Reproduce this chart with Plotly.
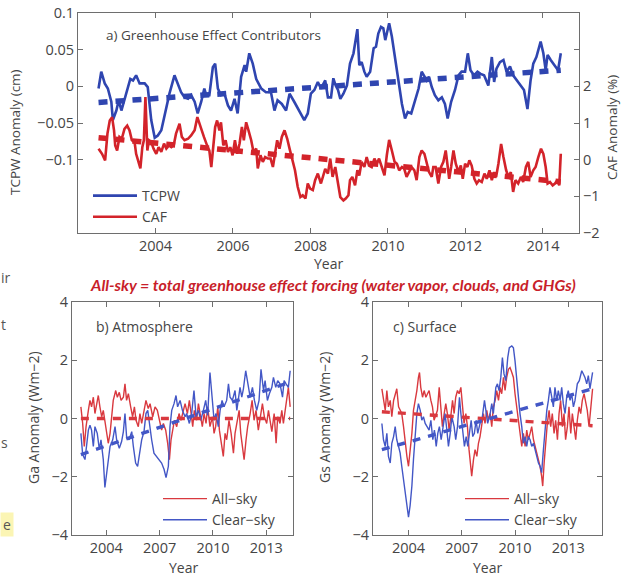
import plotly.graph_objects as go

# ---------------- data: panel a ----------------
tcpw_year = [2002.53, 2002.60, 2002.69, 2002.77, 2002.86, 2002.90, 2002.99, 2003.05, 2003.12, 2003.20,
             2003.29, 2003.35, 2003.42, 2003.50, 2003.59, 2003.72, 2003.80, 2003.89, 2003.98, 2004.06,
             2004.15, 2004.25, 2004.36, 2004.49, 2004.58, 2004.66, 2004.75, 2004.84, 2004.92, 2005.01,
             2005.09, 2005.18, 2005.26, 2005.31, 2005.39, 2005.48, 2005.54, 2005.61, 2005.69, 2005.78,
             2005.87, 2005.95, 2006.04, 2006.12, 2006.21, 2006.30, 2006.34, 2006.42, 2006.51, 2006.60,
             2006.73, 2006.85, 2006.98, 2007.07, 2007.15, 2007.26, 2007.37, 2007.46, 2007.58, 2007.71,
             2007.84, 2007.93, 2008.01, 2008.10, 2008.19, 2008.27,
             2008.38, 2008.45, 2008.53, 2008.59, 2008.65, 2008.71, 2008.77, 2008.85, 2008.94, 2009.02,
             2009.11, 2009.21, 2009.26, 2009.32, 2009.39, 2009.45, 2009.54, 2009.63, 2009.69, 2009.75,
             2009.82, 2009.88, 2009.93, 2009.97, 2010.03, 2010.10, 2010.18, 2010.27, 2010.36, 2010.44,
             2010.51, 2010.60, 2010.68, 2010.79, 2010.87, 2010.94, 2011.00, 2011.06, 2011.13, 2011.21,
             2011.30, 2011.39, 2011.47, 2011.54, 2011.63, 2011.73, 2011.82, 2011.90, 2011.99, 2012.06,
             2012.13, 2012.22, 2012.31, 2012.39, 2012.48, 2012.59, 2012.68, 2012.74, 2012.80, 2012.89,
             2012.98, 2013.06, 2013.15, 2013.23, 2013.32, 2013.42, 2013.51, 2013.60, 2013.68, 2013.75,
             2013.83, 2013.94, 2014.01, 2014.07, 2014.12, 2014.20, 2014.31, 2014.39, 2014.46]
tcpw_val = [-0.003, 0.020, 0.004, -0.003, -0.021, -0.046, -0.033, -0.019, -0.033, -0.019,
            -0.003, 0.010, 0.008, 0.015, 0.004, 0.004, -0.001, -0.046, -0.070, -0.067,
            -0.060, -0.037, -0.010, 0.015, 0.004, -0.008, -0.015, -0.017, -0.012, -0.021,
            -0.037, -0.021, -0.003, -0.012, -0.012, 0.026, 0.031, -0.003, -0.012, -0.010,
            -0.026, -0.033, -0.017, -0.037, 0.013, 0.029, 0.020, 0.045, 0.031, 0.010,
            -0.003, -0.008, -0.008, -0.033, -0.019, -0.024, -0.033, -0.010, -0.021, -0.033,
            -0.046, -0.037, -0.010, -0.005, 0.006, -0.003,
            0.008, -0.015, -0.015, 0.011, 0.001, -0.005, -0.017, -0.010, 0.001, 0.031,
            0.045, 0.078, 0.029, 0.033, 0.020, 0.013, 0.020, 0.052, 0.054, 0.072,
            0.081, 0.079, 0.063, 0.072, 0.086, 0.068, 0.040, 0.008, -0.024, -0.044,
            -0.035, -0.037, -0.024, -0.003, 0.020, 0.013, 0.008, 0.013, -0.001, -0.012,
            -0.019, -0.015, -0.024, -0.044, -0.021, -0.005, 0.015, 0.020, 0.020, 0.045,
            0.022, 0.015, 0.020, 0.017, 0.015, 0.001, 0.040, 0.006, 0.024, 0.033,
            0.036, 0.020, 0.027, 0.015, 0.008, 0.001, -0.005, -0.031, 0.008, 0.031,
            0.040, 0.061, 0.045, 0.022, 0.043, 0.036, 0.027, 0.022, 0.045]

caf_year = [2002.53, 2002.62, 2002.70, 2002.76, 2002.82, 2002.88, 2002.93, 2002.96, 2003.01, 2003.07,
            2003.13, 2003.20, 2003.27, 2003.33, 2003.39, 2003.46, 2003.50, 2003.55, 2003.61, 2003.66,
            2003.70, 2003.74, 2003.79, 2003.83, 2003.89, 2003.95, 2004.02, 2004.08, 2004.15, 2004.22,
            2004.28, 2004.35, 2004.41, 2004.47, 2004.53, 2004.62, 2004.68, 2004.75, 2004.84, 2004.92,
            2005.01, 2005.08, 2005.16, 2005.25, 2005.33, 2005.39, 2005.44, 2005.48, 2005.54, 2005.59,
            2005.65, 2005.69, 2005.75, 2005.81, 2005.87, 2005.93, 2005.99, 2006.05, 2006.11, 2006.17,
            2006.23, 2006.28, 2006.34, 2006.40, 2006.47, 2006.53, 2006.60, 2006.64, 2006.71, 2006.77,
            2006.83, 2006.90, 2006.97, 2007.03, 2007.09, 2007.14, 2007.20, 2007.26, 2007.33, 2007.40,
            2007.46, 2007.52, 2007.60, 2007.67, 2007.74, 2007.80, 2007.87, 2007.93, 2007.99, 2008.06,
            2008.12, 2008.19, 2008.27,
            2008.38, 2008.45, 2008.51, 2008.57, 2008.64, 2008.71, 2008.77, 2008.85, 2008.91, 2008.98,
            2009.02, 2009.08, 2009.15, 2009.21, 2009.26, 2009.32, 2009.39, 2009.45, 2009.51, 2009.58,
            2009.65, 2009.71, 2009.77, 2009.84, 2009.91, 2009.97, 2010.03, 2010.10, 2010.17, 2010.23,
            2010.29, 2010.36, 2010.42, 2010.48, 2010.54, 2010.61, 2010.68, 2010.74, 2010.81, 2010.87,
            2010.94, 2011.00, 2011.06, 2011.13, 2011.17, 2011.23, 2011.30, 2011.37, 2011.43, 2011.49,
            2011.54, 2011.58, 2011.63, 2011.69, 2011.75, 2011.82, 2011.88, 2011.93, 2011.99, 2012.05,
            2012.10, 2012.16, 2012.23, 2012.29, 2012.35, 2012.42, 2012.49, 2012.55, 2012.62, 2012.68,
            2012.74, 2012.79, 2012.85, 2012.92, 2012.98, 2013.05, 2013.11, 2013.17, 2013.23, 2013.29,
            2013.36, 2013.43, 2013.49, 2013.56, 2013.62, 2013.68, 2013.75, 2013.81, 2013.88, 2013.95,
            2014.01, 2014.07, 2014.12, 2014.18, 2014.25, 2014.31, 2014.37, 2014.42, 2014.46]
caf_val = [0.30, 0.16, -0.02, 0.71, 1.07, 1.16, 0.80, 0.39, 0.25, 0.62,
           0.57, 0.84, 0.93, 0.80, 0.53, 0.48, 0.16, -0.02, -0.24, 0.34,
           0.53, 1.71, 0.25, 0.53, 0.48, 0.30, 0.16, 0.34, 0.21, 0.44,
           0.30, 0.39, 0.34, 0.39, 0.71, 0.98, 0.62, 0.53, 0.57, 0.66,
           0.80, 1.16, 0.89, 0.62, 0.39, 0.25, -0.20, 0.30, 0.89, 1.07,
           0.80, 1.02, 0.39, 0.53, 0.21, 0.34, 0.12, 0.53, 0.16, 0.44,
           0.89, 0.53, 1.02, 0.80, 0.53, 0.21, 0.30, -0.24, 0.12, -0.06,
           0.07, 0.03, 0.03, -0.20, 0.25, 0.53, 0.30, 0.62, 0.80, 0.57,
           0.30, 0.07, -0.29, -0.74, -1.02, -0.97, -1.06, -0.65, -0.79, -0.83,
           -0.56, -0.38, -0.65,
           -0.25, -0.38, 0.03, -0.47, -0.20, -0.65, -1.02, -1.11, -1.06, -0.97,
           -0.56, -0.47, -0.70, -0.29, -0.43, -0.06, -0.20, 0.07, -0.16, -0.20,
           0.03, -0.11, 0.03, -0.20, -0.43, 0.12, 0.54, 0.25, -0.06, -0.11,
           -0.29, -0.20, -0.25, -0.47, -0.34, -0.20, -0.29, -0.56, 0.07, 0.25,
           0.16, -0.11, -0.34, -0.47, -0.20, -0.20, -0.65, -0.20, -0.06, 0.25,
           -0.11, -0.52, -0.20, 0.25, -0.11, -0.34, -0.16, -0.52, -0.11, -0.20,
           -0.02, -0.16, -0.52, -0.65, -0.56, -0.61, -0.38, -0.52, -0.29, -0.56,
           -0.34, -0.47, -0.11, 0.43, 0.07, -0.29, -0.47, -0.34, -0.88, -0.56,
           -0.65, -0.47, -0.61, -0.20, -0.06, -0.47, -0.29, -0.20, 0.07, 0.30,
           0.16, -0.20, -0.65, -0.61, -0.70, -0.65, -0.56, -0.70, 0.16]

trend_a_year = [2002.53, 2014.46]
tcpw_trend = [-0.022, 0.022]
caf_trend = [0.60, -0.60]

# ---------------- data: panel b (Atmosphere) ----------------
b_all_year = [2002.57, 2002.67, 2002.76, 2002.86, 2002.99, 2003.08, 2003.17, 2003.27, 2003.36, 2003.46,
              2003.55, 2003.64, 2003.74, 2003.83, 2003.92, 2004.02, 2004.11, 2004.21, 2004.30, 2004.39,
              2004.53, 2004.62, 2004.73, 2004.83, 2004.96, 2005.05, 2005.14, 2005.24, 2005.37, 2005.48,
              2005.58, 2005.67, 2005.80, 2005.89, 2005.99, 2006.12, 2006.23, 2006.36, 2006.46, 2006.61,
              2006.74, 2006.87, 2006.98, 2007.11, 2007.21, 2007.34, 2007.45, 2007.55, 2007.64, 2007.73,
              2007.83, 2007.96, 2008.09, 2008.20, 2008.33, 2008.43, 2008.56, 2008.67, 2008.77, 2008.86,
              2008.95, 2009.08, 2009.18, 2009.27, 2009.40, 2009.50, 2009.61, 2009.70, 2009.83, 2009.97,
              2010.06, 2010.15, 2010.27, 2010.36, 2010.49, 2010.58, 2010.68, 2010.77, 2010.90, 2011.02,
              2011.15, 2011.24, 2011.34, 2011.47, 2011.56, 2011.65, 2011.75, 2011.86, 2011.95, 2012.09,
              2012.20, 2012.31, 2012.42, 2012.55, 2012.65, 2012.78, 2012.89, 2013.02, 2013.12, 2013.21,
              2013.31, 2013.44, 2013.55, 2013.64, 2013.77, 2013.87, 2013.96, 2014.06, 2014.15, 2014.24,
              2014.34]
b_all_val = [0.40, -0.17, -0.96, -0.28, 0.28, 0.62, 0.40, 0.73, 0.17, 0.51,
             0.79, 0.40, 0.06, 0.28, -0.06, -0.51, -0.85, -0.51, 0.17, 0.62,
             0.96, 0.73, 0.90, 0.62, 0.73, 1.19, 0.62, 0.85, 0.40, 0.06,
             0.40, -0.06, -0.28, 0.17, -0.17, 0.28, 0.62, 0.34, 0.51, 0.06,
             0.40, 0.28, -0.06, -0.40, -0.17, -0.40, -0.85, -1.41, -0.73, -0.40,
             -0.06, -0.28, 0.17, -0.06, 0.28, 0.51, 0.17, 0.62, 0.17, -0.28,
             0.28, -0.06, 0.51, 0.17, -0.28, 0.17, -0.17, 0.40, -0.28, 0.06,
             -0.51, -0.28, 0.40, -0.40, -0.96, -1.30, -0.51, -0.73, -0.06, -0.51,
             -1.19, -0.51, -0.17, 0.28, -0.51, -0.96, -1.41, -0.73, -0.28, 0.17,
             0.62, -0.06, 0.28, -0.40, 0.06, 0.51, 0.06, -0.17, 0.28, -0.06,
             -0.45, 0.17, -0.85, 0.06, -0.17, 0.28, -0.17, 0.28, 0.73, 1.07,
             0.40]
b_clear_year = [2002.57, 2002.67, 2002.80, 2002.89, 2002.99, 2003.08, 2003.17, 2003.27, 2003.36, 2003.49,
                2003.61, 2003.70, 2003.83, 2003.92, 2004.02, 2004.11, 2004.21, 2004.36, 2004.49, 2004.58,
                2004.73, 2004.86, 2004.96, 2005.05, 2005.14, 2005.28, 2005.43, 2005.52, 2005.65, 2005.76,
                2005.89, 2005.99, 2006.12, 2006.23, 2006.33, 2006.46, 2006.55, 2006.68, 2006.83, 2006.98,
                2007.11, 2007.25, 2007.36, 2007.49, 2007.58, 2007.68, 2007.81, 2007.92, 2008.01, 2008.15,
                2008.28, 2008.43, 2008.52, 2008.67, 2008.80, 2008.93, 2009.05, 2009.18, 2009.31, 2009.46,
                2009.59, 2009.70, 2009.83, 2009.95, 2010.06, 2010.17, 2010.30, 2010.40, 2010.51, 2010.62,
                2010.77, 2010.87, 2010.96, 2011.09, 2011.24, 2011.34, 2011.43, 2011.52, 2011.62, 2011.71,
                2011.84, 2011.95, 2012.09, 2012.22, 2012.33, 2012.46, 2012.59, 2012.70, 2012.84, 2012.93,
                2013.06, 2013.17, 2013.31, 2013.40, 2013.53, 2013.64, 2013.77, 2013.91, 2014.00, 2014.11,
                2014.24, 2014.34]
b_clear_val = [-0.51, -1.24, -1.41, -0.85, -0.40, -0.23, -0.40, -0.96, -0.28, -0.51,
               -1.07, -0.73, -1.41, -2.37, -1.86, -1.30, -0.96, -0.73, -0.28, -0.73,
               -1.02, -0.79, -0.45, 0.17, -0.62, -0.73, -0.45, -0.96, -1.53, -1.64,
               -1.19, -0.73, -0.45, 0.17, 0.28, -0.40, -0.73, -1.19, -1.30, -1.41,
               -1.53, -1.75, -2.03, -1.64, -0.28, 0.28, 0.51, 0.79, 0.40, 0.62,
               0.28, 0.06, 0.17, -0.17, 0.17, 0.96, 0.06, 0.28, -0.06, 0.28,
               0.62, 0.11, 1.58, 0.73, -0.06, 0.17, -0.28, 0.28, 0.62, 0.40,
               0.62, 1.19, 0.73, 0.62, 0.96, 0.28, 0.62, 1.07, 0.73, 1.02,
               1.64, 1.19, 0.73, 1.07, 0.62, 0.28, 0.62, 1.69, 0.96, 1.30,
               0.62, 0.85, 1.07, 1.41, 1.07, 1.30, 1.19, 0.73, 1.30, 1.19,
               1.07, 1.64]
trend_b_year = [2002.57, 2014.34]
b_all_trend = [0.0, 0.0]
b_clear_trend = [-1.24, 1.25]

# ---------------- data: panel c (Surface) ----------------
c_all_year = [2002.50, 2002.59, 2002.69, 2002.78, 2002.87, 2002.97, 2003.06, 2003.16, 2003.25, 2003.34,
              2003.44, 2003.53, 2003.62, 2003.72, 2003.81, 2003.91, 2004.00, 2004.09, 2004.19, 2004.28,
              2004.38, 2004.47, 2004.56, 2004.62, 2004.69, 2004.79, 2004.88, 2004.98, 2005.07, 2005.16,
              2005.26, 2005.35, 2005.44, 2005.54, 2005.63, 2005.73, 2005.82, 2005.91, 2006.01, 2006.10,
              2006.19, 2006.29, 2006.38, 2006.48, 2006.57, 2006.66, 2006.76, 2006.85, 2006.95, 2007.04,
              2007.13, 2007.23, 2007.32, 2007.41, 2007.51, 2007.56, 2007.66, 2007.75, 2007.85, 2007.94,
              2008.03, 2008.13, 2008.22, 2008.31, 2008.41, 2008.50, 2008.60, 2008.69, 2008.78, 2008.88,
              2008.97, 2009.07, 2009.16, 2009.25, 2009.35, 2009.44, 2009.53, 2009.63, 2009.72, 2009.82,
              2009.91, 2010.00, 2010.10, 2010.19, 2010.28, 2010.38, 2010.47, 2010.57, 2010.66, 2010.75,
              2010.85, 2010.94, 2011.04, 2011.13, 2011.22, 2011.32, 2011.41, 2011.50, 2011.56, 2011.64,
              2011.73, 2011.82, 2011.92, 2012.01, 2012.10, 2012.20, 2012.29, 2012.39, 2012.48, 2012.57,
              2012.67, 2012.76, 2012.85, 2012.95, 2013.04, 2013.14, 2013.23, 2013.32, 2013.42, 2013.51,
              2013.61, 2013.70, 2013.79, 2013.89, 2013.98, 2014.07, 2014.17, 2014.26, 2014.37]
c_all_val = [1.02, 0.73, 0.28, 0.96, 0.40, 0.62, 0.06, 0.62, 0.85, 1.02,
             0.40, 0.28, 0.17, -0.28, -0.85, -1.30, -1.64, -1.19, -0.51, 0.28,
             0.62, 0.96, 1.41, 1.58, 1.07, 0.73, 0.96, 0.73, 0.85, 0.96,
             0.62, 0.40, -0.06, 0.17, 0.28, 1.07, 0.40, -0.28, 0.17, 0.51,
             0.17, -0.40, 0.06, 0.62, 0.17, 0.73, 0.96, 0.85, 1.07, 0.40,
             -0.17, 0.17, -0.28, -1.07, -1.64, -1.98, -1.41, -1.07, -1.30, -0.85,
             -0.62, -0.28, 0.17, -0.17, 0.28, -0.06, 0.17, -0.28, 0.40, 0.62,
             0.96, 0.62, 1.07, 0.85, 1.41, 0.96, 1.41, 1.69, 1.75, 1.58,
             1.41, 0.85, 0.40, -0.06, -0.51, -0.96, -0.51, -0.96, -0.40, -0.73,
             -0.51, -0.28, -0.73, -0.96, -1.19, -1.41, -1.64, -1.98, -2.32, -1.53,
             -0.73, -0.17, 0.28, -0.28, 0.17, -0.51, -0.06, -0.73, 0.17, 0.62,
             -0.28, 0.17, -0.73, -0.28, 0.40, -0.51, 0.17, -0.28, -0.73, -0.06,
             0.40, 0.17, 0.62, 0.85, 0.62, 0.28, -0.28, 0.40, 1.02]
c_clear_year = [2002.50, 2002.59, 2002.69, 2002.78, 2002.87, 2002.97, 2003.06, 2003.16, 2003.25, 2003.34,
                2003.44, 2003.53, 2003.62, 2003.72, 2003.81, 2003.91, 2004.00, 2004.09, 2004.19, 2004.28,
                2004.38, 2004.47, 2004.56, 2004.66, 2004.75, 2004.84, 2004.94, 2005.03, 2005.16, 2005.26,
                2005.37, 2005.46, 2005.56, 2005.65, 2005.74, 2005.84, 2005.93, 2006.06, 2006.16, 2006.25,
                2006.35, 2006.44, 2006.57, 2006.66, 2006.76, 2006.87, 2006.95, 2007.04, 2007.15, 2007.25,
                2007.34, 2007.43, 2007.53, 2007.62, 2007.71, 2007.81, 2007.90, 2008.03, 2008.16, 2008.28,
                2008.37, 2008.46, 2008.60, 2008.69, 2008.78, 2008.92, 2009.01, 2009.10, 2009.20, 2009.29,
                2009.38, 2009.48, 2009.59, 2009.68, 2009.82, 2009.91, 2010.00, 2010.10, 2010.19, 2010.28,
                2010.38, 2010.47, 2010.57, 2010.66, 2010.75, 2010.85, 2010.94, 2011.04, 2011.13, 2011.22,
                2011.32, 2011.41, 2011.50, 2011.60, 2011.69, 2011.79, 2011.88, 2011.97, 2012.07, 2012.16,
                2012.25, 2012.35, 2012.44, 2012.54, 2012.63, 2012.72, 2012.82, 2012.91, 2013.00, 2013.10,
                2013.19, 2013.29, 2013.38, 2013.51, 2013.62, 2013.76, 2013.85, 2013.94, 2014.04, 2014.13,
                2014.22, 2014.32, 2014.37]
c_clear_val = [-0.17, -0.73, -0.96, -0.51, -1.30, -1.53, -0.85, -0.62, -0.28, -0.73,
               -0.96, -1.19, -1.64, -2.09, -2.66, -3.11, -3.39, -2.99, -2.32, -1.41,
               -0.40, 0.17, 0.51, 0.28, -0.06, 0.06, -0.17, -0.28, -0.40, -0.06,
               -0.73, -0.40, -0.96, -0.51, -0.28, -0.73, -0.28, 0.17, -0.40, -0.96,
               -0.51, 0.06, -0.28, -0.73, -0.28, 0.73, 0.17, -0.40, -0.96, -0.62,
               -0.96, -0.51, -0.06, -0.62, -0.51, -0.06, -0.51, -0.17, 0.06, 0.62,
               0.28, -0.17, 0.17, 0.51, 0.17, 1.07, 1.19, 0.96, 1.41, 2.09,
               1.53, 1.30, 2.09, 2.43, 2.49, 2.43, 1.98, 1.30, 0.73, 0.17,
               -0.28, -0.85, -0.62, -0.96, -0.62, -0.73, -0.96, -0.85, -1.07, -1.30,
               -1.53, -1.64, -1.86, -1.07, -0.28, 0.28, 0.62, 1.07, 0.73, 0.40,
               1.07, 0.62, 0.96, 0.62, 1.07, 0.51, 0.17, 0.73, 0.96, 0.62,
               0.85, 0.40, 0.62, 1.19, 1.30, 1.64, 1.53, 1.41, 1.19, 1.47,
               1.02, 1.41, 1.58]
trend_c_year = [2002.50, 2014.37]
c_all_trend = [0.23, -0.25]
c_clear_trend = [-1.07, 1.02]

# ---------------- styling ----------------
W, H = 627, 576
BLUE_A, RED_A = "#2f45b0", "#d3232a"
BLUE_B, RED_B = "#4357c6", "#d9393f"
AXC = "#6e6e6e"
TXT = "#454545"
FONT = "Open Sans"


def px_x(p):
    return p / W


def px_y(p):
    return 1 - p / H


fig = go.Figure()

# panel a
fig.add_trace(go.Scatter(x=tcpw_year, y=tcpw_val, mode="lines", name="TCPW",
                         line=dict(color=BLUE_A, width=2.6), xaxis="x", yaxis="y", legend="legend"))
fig.add_trace(go.Scatter(x=caf_year, y=caf_val, mode="lines", name="CAF",
                         line=dict(color=RED_A, width=2.6), xaxis="x", yaxis="y2", legend="legend"))
fig.add_trace(go.Scatter(x=trend_a_year, y=tcpw_trend, mode="lines", showlegend=False,
                         line=dict(color=BLUE_A, width=5.5, dash="9px,8px"), xaxis="x", yaxis="y"))
fig.add_trace(go.Scatter(x=trend_a_year, y=caf_trend, mode="lines", showlegend=False,
                         line=dict(color=RED_A, width=5.5, dash="9px,8px"), xaxis="x", yaxis="y2"))

# panel b
fig.add_trace(go.Scatter(x=b_all_year, y=b_all_val, mode="lines", name="All\u2212sky",
                         line=dict(color=RED_B, width=1.4), xaxis="x2", yaxis="y3", legend="legend2"))
fig.add_trace(go.Scatter(x=b_clear_year, y=b_clear_val, mode="lines", name="Clear\u2212sky",
                         line=dict(color=BLUE_B, width=1.4), xaxis="x2", yaxis="y3", legend="legend2"))
fig.add_trace(go.Scatter(x=trend_b_year, y=b_all_trend, mode="lines", showlegend=False,
                         line=dict(color=RED_B, width=3.4, dash="8px,8px"), xaxis="x2", yaxis="y3"))
fig.add_trace(go.Scatter(x=trend_b_year, y=b_clear_trend, mode="lines", showlegend=False,
                         line=dict(color=BLUE_B, width=3.4, dash="8px,8px"), xaxis="x2", yaxis="y3"))

# panel c
fig.add_trace(go.Scatter(x=c_all_year, y=c_all_val, mode="lines", name="All\u2212sky",
                         line=dict(color=RED_B, width=1.4), xaxis="x3", yaxis="y4", legend="legend3"))
fig.add_trace(go.Scatter(x=c_clear_year, y=c_clear_val, mode="lines", name="Clear\u2212sky",
                         line=dict(color=BLUE_B, width=1.4), xaxis="x3", yaxis="y4", legend="legend3"))
fig.add_trace(go.Scatter(x=trend_c_year, y=c_all_trend, mode="lines", showlegend=False,
                         line=dict(color=RED_B, width=3.4, dash="8px,8px"), xaxis="x3", yaxis="y4"))
fig.add_trace(go.Scatter(x=trend_c_year, y=c_clear_trend, mode="lines", showlegend=False,
                         line=dict(color=BLUE_B, width=3.4, dash="8px,8px"), xaxis="x3", yaxis="y4"))

axis_common = dict(showline=True, linecolor=AXC, linewidth=1, ticks="inside", ticklen=5,
                   tickcolor=AXC, tickwidth=1, showgrid=False, zeroline=False,
                   tickfont=dict(family=FONT, size=14.5, color=TXT), fixedrange=True)

legend_common = dict(xanchor="left", yanchor="top", bgcolor="rgba(0,0,0,0)",
                     font=dict(family=FONT, size=14, color=TXT), tracegroupgap=0, itemwidth=44)

fig.update_layout(
    width=W, height=H, autosize=False,
    margin=dict(l=0, r=0, t=0, b=0, autoexpand=False),
    paper_bgcolor="white", plot_bgcolor="white",
    font=dict(family=FONT, color=TXT),
    xaxis=dict(domain=[px_x(78), px_x(579)], anchor="y", range=[2002.0, 2014.93],
               tickvals=[2004, 2006, 2008, 2010, 2012, 2014], mirror="ticks", **axis_common),
    yaxis=dict(domain=[px_y(233), px_y(13)], anchor="x", range=[-0.2, 0.1],
               tickvals=[-0.1, -0.05, 0, 0.05, 0.1],
               ticktext=["\u22120.1", "\u22120.05", "0", "0.05", "0.1"], mirror=False, **axis_common),
    yaxis2=dict(overlaying="y", side="right", anchor="x", range=[-2, 4],
                tickvals=[-2, -1, 0, 1, 2, 3],
                ticktext=["\u22122", "\u22121", "0", "1", "2", ""], **axis_common),
    xaxis2=dict(domain=[px_x(72), px_x(293)], anchor="y3", range=[2002.07, 2014.5],
                tickvals=[2004, 2007, 2010, 2013], mirror="ticks", **axis_common),
    yaxis3=dict(domain=[px_y(535), px_y(302)], anchor="x2", range=[-4, 4],
                tickvals=[-4, -2, 0, 2, 4], mirror="ticks", **axis_common),
    xaxis3=dict(domain=[px_x(373), px_x(602)], anchor="y4", range=[2002.0, 2014.9],
                tickvals=[2004, 2007, 2010, 2013], mirror="ticks", **axis_common),
    yaxis4=dict(domain=[px_y(535), px_y(302)], anchor="x3", range=[-4, 4],
                tickvals=[-4, -2, 0, 2, 4], mirror="ticks", **axis_common),
    legend=dict(x=px_x(88), y=px_y(180), **legend_common),
    legend2=dict(x=px_x(158), y=px_y(483), **legend_common),
    legend3=dict(x=px_x(460), y=px_y(483), **legend_common),
    showlegend=True,
)


def ann(text, x, y, size=14, xanchor="center", yanchor="middle", angle=0, color=TXT, family=FONT, **kw):
    fig.add_annotation(text=text, x=px_x(x), y=px_y(y), xref="paper", yref="paper",
                       showarrow=False, xanchor=xanchor, yanchor=yanchor, textangle=angle,
                       font=dict(family=family, size=size, color=color), **kw)


# panel titles
ann("a) Greenhouse Effect Contributors", 104, 35, size=13.5, xanchor="left")
ann("b) Atmosphere", 94, 326, size=14, xanchor="left")
ann("c) Surface", 391, 326, size=14, xanchor="left")

# axis titles
ann("TCPW Anomaly (cm)", 15, 132, size=13.5, angle=-90)
ann("CAF Anomaly (%)", 612, 128, size=13.5, angle=-90)
ann("Ga Anomaly (Wm\u22122)", 33, 418, size=14, angle=-90)
ann("Gs Anomaly (Wm\u22122)", 324, 418, size=14, angle=-90)
ann("Year", 328, 263, size=14, borderpad=0)
ann("Year", 183, 567, size=14)
ann("Year", 487, 567, size=14)

# red caption
ann("<b><i>All-sky = total greenhouse effect forcing (water vapor, clouds, and GHGs)</i></b>",
    333, 284.5, size=16, color="#c81e2a", family="Lato", borderpad=0)

# text fragments of the surrounding page visible at the left edge
ann("ir", 0, 277, size=14, xanchor="left", color="#555", borderpad=0)
ann("t", 0, 324, size=14, xanchor="left", color="#555", borderpad=0)
ann("s", 0, 442, size=14, xanchor="left", color="#555", borderpad=0)
ann("e", 0, 524, size=14, xanchor="left", color="#555", bgcolor="#fbf5b4", borderpad=2)

fig.write_html("out.html", include_plotlyjs=True, full_html=True,
               config={"displayModeBar": False, "staticPlot": True},
               post_script="document.body.style.margin='0';document.body.style.padding='0';")
